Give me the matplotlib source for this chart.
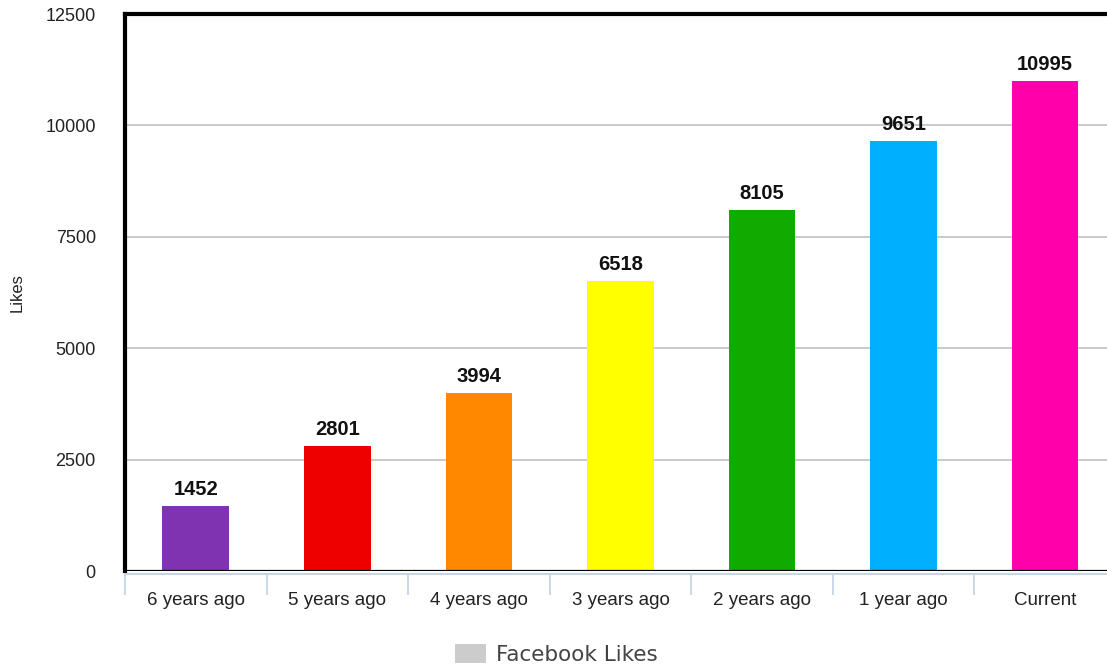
import matplotlib.pyplot as plt
import numpy as np
from matplotlib.patches import Patch

categories = ['6 years ago', '5 years ago', '4 years ago', '3 years ago', '2 years ago', '1 year ago', 'Current']
likes = [1452, 2801, 3994, 6518, 8105, 9651, 10995]
bar_colors = ['#8033b0', '#ee0000', '#ff8800', '#ffff00', '#11aa00', '#00b0ff', '#ff00aa']
yticks = [0, 2500, 5000, 7500, 10000, 12500]

plt.rcParams['font.family'] = ['Liberation Sans', 'DejaVu Sans']

fig = plt.figure(figsize=(11.07, 6.68), dpi=100)
ax = fig.add_axes([0.1129, 0.1452, 0.8952, 0.8338])

x = np.arange(len(categories))
ax.bar(x, likes, width=0.47, color=bar_colors, zorder=3)

for xi, v in zip(x, likes):
    ax.annotate(str(v), (xi, v), xytext=(0, 5), textcoords='offset points',
                ha='center', va='bottom', fontsize=14.5, fontweight='bold', color='#111111')

ax.set_xlim(-0.5, len(categories) - 0.5)
ax.set_ylim(0, 12500)
ax.set_yticks(yticks)
ax.set_yticklabels([str(t) for t in yticks])
ax.tick_params(axis='y', length=0, pad=21, labelsize=13, labelcolor='#222222')
ax.yaxis.grid(True, color='#c0c0c0', linewidth=1.2, zorder=0)

ax.set_xticks(x)
ax.set_xticklabels(categories)
ax.set_xticks(np.arange(-0.5, len(categories) - 0.5, 1), minor=True)
ax.tick_params(axis='x', which='major', length=0, pad=13, labelsize=13.5, labelcolor='#222222')
ax.tick_params(axis='x', which='minor', length=15, width=1.3, color='#c5d5e5', direction='out')

ax.set_ylabel('Likes', fontsize=12, color='#222222', labelpad=15)

for s in ['top', 'left']:
    ax.spines[s].set_color('black')
    ax.spines[s].set_linewidth(3)
ax.spines['right'].set_visible(False)
ax.spines['bottom'].set_color('#c5d5e5')
ax.spines['bottom'].set_linewidth(1.5)
ax.spines['bottom'].set_position(('outward', 2))
ax.axhline(0, color='black', linewidth=1.6, zorder=4)

handle = Patch(facecolor='#cccccc', edgecolor='none', label='Facebook Likes')
fig.legend(handles=[handle], loc='center', bbox_to_anchor=(0.503, 0.02), frameon=False,
           prop={'family': 'DejaVu Sans', 'size': 15.5}, labelcolor='#444444',
           handlelength=1.4, handleheight=1.0, handletextpad=0.5)

fig.savefig('out.png', dpi=100)
